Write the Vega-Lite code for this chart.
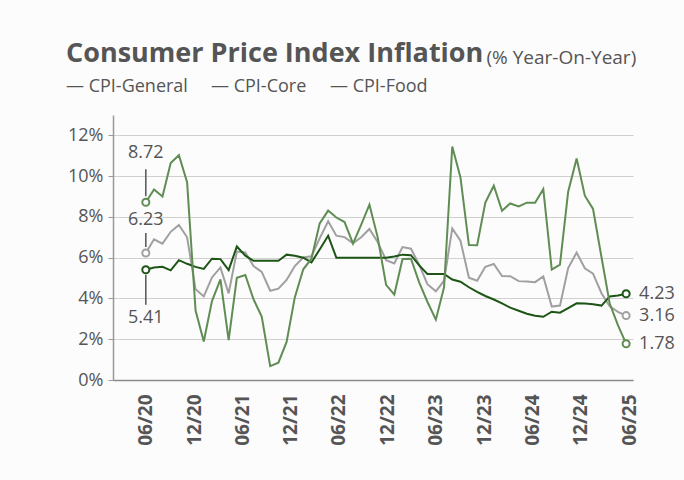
{
  "$schema": "https://vega.github.io/schema/vega-lite/v6.json",
  "width": 520,
  "height": 265,
  "autosize": "none",
  "padding": {"left": 113, "top": 115, "right": 51, "bottom": 100},
  "background": "#fcfcfc",
  "title": {
    "text": "Consumer Price Index Inflation",
    "anchor": "start",
    "frame": "group",
    "dx": -47,
    "offset": -20,
    "fontSize": 27,
    "font": "Open Sans",
    "fontWeight": "bold",
    "color": "#555555"
  },
  "datasets": {
    "cpi": [
      {"date": "2020-06-01", "CPI-General": 6.23, "CPI-Core": 5.41, "CPI-Food": 8.72},
      {"date": "2020-07-02", "CPI-General": 6.9, "CPI-Core": 5.52, "CPI-Food": 9.35},
      {"date": "2020-08-03", "CPI-General": 6.69, "CPI-Core": 5.55, "CPI-Food": 9.0},
      {"date": "2020-09-03", "CPI-General": 7.27, "CPI-Core": 5.38, "CPI-Food": 10.65},
      {"date": "2020-10-04", "CPI-General": 7.61, "CPI-Core": 5.88, "CPI-Food": 11.03},
      {"date": "2020-11-04", "CPI-General": 7.0, "CPI-Core": 5.7, "CPI-Food": 9.7},
      {"date": "2020-12-06", "CPI-General": 4.45, "CPI-Core": 5.55, "CPI-Food": 3.41},
      {"date": "2021-01-06", "CPI-General": 4.1, "CPI-Core": 5.45, "CPI-Food": 1.89},
      {"date": "2021-02-06", "CPI-General": 5.03, "CPI-Core": 5.95, "CPI-Food": 3.87},
      {"date": "2021-03-10", "CPI-General": 5.52, "CPI-Core": 5.93, "CPI-Food": 4.94},
      {"date": "2021-04-10", "CPI-General": 4.25, "CPI-Core": 5.39, "CPI-Food": 1.96},
      {"date": "2021-05-11", "CPI-General": 6.3, "CPI-Core": 6.55, "CPI-Food": 5.01},
      {"date": "2021-06-12", "CPI-General": 6.26, "CPI-Core": 6.1, "CPI-Food": 5.15},
      {"date": "2021-07-13", "CPI-General": 5.59, "CPI-Core": 5.85, "CPI-Food": 3.96},
      {"date": "2021-08-13", "CPI-General": 5.3, "CPI-Core": 5.85, "CPI-Food": 3.11},
      {"date": "2021-09-14", "CPI-General": 4.38, "CPI-Core": 5.85, "CPI-Food": 0.68},
      {"date": "2021-10-15", "CPI-General": 4.48, "CPI-Core": 5.85, "CPI-Food": 0.85},
      {"date": "2021-11-15", "CPI-General": 4.91, "CPI-Core": 6.15, "CPI-Food": 1.87},
      {"date": "2021-12-16", "CPI-General": 5.59, "CPI-Core": 6.1, "CPI-Food": 4.05},
      {"date": "2022-01-17", "CPI-General": 6.01, "CPI-Core": 6.0, "CPI-Food": 5.43},
      {"date": "2022-02-17", "CPI-General": 6.07, "CPI-Core": 5.77, "CPI-Food": 5.95},
      {"date": "2022-03-20", "CPI-General": 6.95, "CPI-Core": 6.4, "CPI-Food": 7.68},
      {"date": "2022-04-21", "CPI-General": 7.79, "CPI-Core": 7.08, "CPI-Food": 8.31},
      {"date": "2022-05-22", "CPI-General": 7.08, "CPI-Core": 6.0, "CPI-Food": 7.97},
      {"date": "2022-06-22", "CPI-General": 7.01, "CPI-Core": 6.0, "CPI-Food": 7.75},
      {"date": "2022-07-24", "CPI-General": 6.71, "CPI-Core": 6.0, "CPI-Food": 6.69},
      {"date": "2022-08-24", "CPI-General": 7.0, "CPI-Core": 6.0, "CPI-Food": 7.62},
      {"date": "2022-09-24", "CPI-General": 7.41, "CPI-Core": 6.0, "CPI-Food": 8.6},
      {"date": "2022-10-25", "CPI-General": 6.77, "CPI-Core": 6.0, "CPI-Food": 7.01},
      {"date": "2022-11-26", "CPI-General": 5.88, "CPI-Core": 6.0, "CPI-Food": 4.67},
      {"date": "2022-12-27", "CPI-General": 5.72, "CPI-Core": 6.06, "CPI-Food": 4.19},
      {"date": "2023-01-27", "CPI-General": 6.52, "CPI-Core": 6.15, "CPI-Food": 5.94},
      {"date": "2023-02-28", "CPI-General": 6.44, "CPI-Core": 6.12, "CPI-Food": 5.95},
      {"date": "2023-03-31", "CPI-General": 5.66, "CPI-Core": 5.62, "CPI-Food": 4.79},
      {"date": "2023-05-01", "CPI-General": 4.7, "CPI-Core": 5.2, "CPI-Food": 3.84},
      {"date": "2023-06-02", "CPI-General": 4.35, "CPI-Core": 5.2, "CPI-Food": 2.96},
      {"date": "2023-07-03", "CPI-General": 4.87, "CPI-Core": 5.2, "CPI-Food": 4.55},
      {"date": "2023-08-03", "CPI-General": 7.44, "CPI-Core": 4.93, "CPI-Food": 11.45},
      {"date": "2023-09-03", "CPI-General": 6.83, "CPI-Core": 4.82, "CPI-Food": 9.94},
      {"date": "2023-10-05", "CPI-General": 5.02, "CPI-Core": 4.55, "CPI-Food": 6.62},
      {"date": "2023-11-05", "CPI-General": 4.87, "CPI-Core": 4.32, "CPI-Food": 6.61},
      {"date": "2023-12-06", "CPI-General": 5.55, "CPI-Core": 4.12, "CPI-Food": 8.7},
      {"date": "2024-01-07", "CPI-General": 5.69, "CPI-Core": 3.95, "CPI-Food": 9.53},
      {"date": "2024-02-07", "CPI-General": 5.1, "CPI-Core": 3.76, "CPI-Food": 8.3},
      {"date": "2024-03-09", "CPI-General": 5.09, "CPI-Core": 3.55, "CPI-Food": 8.66},
      {"date": "2024-04-10", "CPI-General": 4.85, "CPI-Core": 3.4, "CPI-Food": 8.52},
      {"date": "2024-05-11", "CPI-General": 4.83, "CPI-Core": 3.25, "CPI-Food": 8.7},
      {"date": "2024-06-11", "CPI-General": 4.8, "CPI-Core": 3.15, "CPI-Food": 8.69},
      {"date": "2024-07-12", "CPI-General": 5.08, "CPI-Core": 3.1, "CPI-Food": 9.36},
      {"date": "2024-08-13", "CPI-General": 3.6, "CPI-Core": 3.35, "CPI-Food": 5.42},
      {"date": "2024-09-13", "CPI-General": 3.65, "CPI-Core": 3.3, "CPI-Food": 5.66},
      {"date": "2024-10-14", "CPI-General": 5.49, "CPI-Core": 3.53, "CPI-Food": 9.24},
      {"date": "2024-11-15", "CPI-General": 6.25, "CPI-Core": 3.76, "CPI-Food": 10.87},
      {"date": "2024-12-16", "CPI-General": 5.48, "CPI-Core": 3.75, "CPI-Food": 9.04},
      {"date": "2025-01-16", "CPI-General": 5.22, "CPI-Core": 3.72, "CPI-Food": 8.39},
      {"date": "2025-02-17", "CPI-General": 4.26, "CPI-Core": 3.65, "CPI-Food": 6.02},
      {"date": "2025-03-20", "CPI-General": 3.61, "CPI-Core": 4.1, "CPI-Food": 3.75},
      {"date": "2025-04-20", "CPI-General": 3.34, "CPI-Core": 4.15, "CPI-Food": 2.69},
      {"date": "2025-05-21", "CPI-General": 3.16, "CPI-Core": 4.23, "CPI-Food": 1.78}
    ],
    "ends": [
      {"date": "2020-06-01", "series": "CPI-General", "value": 6.23, "side": "start"},
      {"date": "2020-06-01", "series": "CPI-Core", "value": 5.41, "side": "start"},
      {"date": "2020-06-01", "series": "CPI-Food", "value": 8.72, "side": "start"},
      {"date": "2025-05-21", "series": "CPI-General", "value": 3.16, "side": "end"},
      {"date": "2025-05-21", "series": "CPI-Core", "value": 4.23, "side": "end"},
      {"date": "2025-05-21", "series": "CPI-Food", "value": 1.78, "side": "end"}
    ]
  },
  "encoding": {
    "x": {
      "field": "date",
      "type": "temporal",
      "scale": {
        "type": "utc",
        "domain": [
          {"year": 2020, "month": 1, "date": 29, "utc": true},
          {"year": 2025, "month": 6, "date": 16, "utc": true}
        ]
      },
      "axis": {
        "title": null,
        "values": [
          {"year": 2020, "month": 6, "date": 1, "utc": true},
          {"year": 2020, "month": 12, "date": 1, "utc": true},
          {"year": 2021, "month": 6, "date": 1, "utc": true},
          {"year": 2021, "month": 12, "date": 1, "utc": true},
          {"year": 2022, "month": 6, "date": 1, "utc": true},
          {"year": 2022, "month": 12, "date": 1, "utc": true},
          {"year": 2023, "month": 6, "date": 1, "utc": true},
          {"year": 2023, "month": 12, "date": 1, "utc": true},
          {"year": 2024, "month": 6, "date": 1, "utc": true},
          {"year": 2024, "month": 12, "date": 1, "utc": true},
          {"year": 2025, "month": 6, "date": 1, "utc": true}
        ],
        "labelExpr": "utcFormat(datum.value, '%m/%y')",
        "labelAngle": 270,
        "labelFontSize": 19,
        "labelFontWeight": "bold",
        "labelColor": "#555555",
        "labelPadding": 14,
        "labelFlush": false,
        "labelOverlap": false,
        "ticks": false,
        "grid": false,
        "domainColor": "#8a8a8a",
        "domainWidth": 1.5
      }
    },
    "y": {
      "field": "value",
      "type": "quantitative",
      "scale": {"domain": [0, 13], "nice": false, "zero": true},
      "axis": {
        "title": "(% Year-On-Year)",
        "titleAngle": 0,
        "titleAlign": "left",
        "titleBaseline": "alphabetic",
        "titleX": 373,
        "titleY": -52,
        "titleFontSize": 19,
        "titleFontWeight": "normal",
        "titleColor": "#555555",
        "titleFont": "Open Sans",
        "values": [0, 2, 4, 6, 8, 10, 12],
        "labelExpr": "datum.value + '%'",
        "labelFontSize": 18,
        "labelColor": "#555555",
        "labelPadding": 5,
        "tickSize": 5,
        "tickColor": "#999999",
        "domainColor": "#999999",
        "domainWidth": 1.5,
        "gridColor": "#d0d0d0",
        "gridWidth": 1
      }
    }
  },
  "layer": [
    {
      "data": {"name": "cpi"},
      "transform": [{"fold": ["CPI-General", "CPI-Core", "CPI-Food"], "as": ["series", "value"]}],
      "mark": {"type": "line", "strokeWidth": 2},
      "encoding": {
        "color": {
          "field": "series",
          "type": "nominal",
          "scale": {
            "domain": ["CPI-General", "CPI-Core", "CPI-Food"],
            "range": ["#a0a0a0", "#1d5516", "#5f8d53"]
          },
          "legend": {
            "orient": "none",
            "legendX": -65,
            "legendY": -37,
            "direction": "horizontal",
            "title": null,
            "symbolType": "stroke",
            "symbolSize": 0,
            "symbolOpacity": 0,
            "symbolStrokeWidth": 0,
            "labelExpr": "'— ' + datum.label",
            "labelFontSize": 18,
            "labelColor": "#555555",
            "labelFont": "Open Sans",
            "labelOffset": 0,
            "columnPadding": 5
          }
        }
      }
    },
    {
      "data": {"name": "ends"},
      "transform": [{"filter": "datum.series == 'CPI-Food' && datum.side == 'start'"}],
      "mark": {"type": "rule", "yOffset": -6, "y2Offset": -33, "color": "#555555", "strokeWidth": 1.5},
      "encoding": {"y2": {"field": "value"}}
    },
    {
      "data": {"name": "ends"},
      "transform": [{"filter": "datum.series == 'CPI-General' && datum.side == 'start'"}],
      "mark": {"type": "rule", "yOffset": -6, "y2Offset": -20, "color": "#555555", "strokeWidth": 1.5},
      "encoding": {"y2": {"field": "value"}}
    },
    {
      "data": {"name": "ends"},
      "transform": [{"filter": "datum.series == 'CPI-Core' && datum.side == 'start'"}],
      "mark": {"type": "rule", "yOffset": 5, "y2Offset": 35, "color": "#555555", "strokeWidth": 1.5},
      "encoding": {"y2": {"field": "value"}}
    },
    {
      "data": {"name": "ends"},
      "transform": [{"filter": "datum.series == 'CPI-Food' && datum.side == 'start'"}],
      "mark": {"type": "text", "dy": -44, "align": "center", "baseline": "alphabetic", "fontSize": 18, "color": "#555555", "font": "Open Sans"},
      "encoding": {"text": {"field": "value", "type": "quantitative", "format": ".2f"}}
    },
    {
      "data": {"name": "ends"},
      "transform": [{"filter": "datum.series == 'CPI-General' && datum.side == 'start'"}],
      "mark": {"type": "text", "dy": -28, "align": "center", "baseline": "alphabetic", "fontSize": 18, "color": "#555555", "font": "Open Sans"},
      "encoding": {"text": {"field": "value", "type": "quantitative", "format": ".2f"}}
    },
    {
      "data": {"name": "ends"},
      "transform": [{"filter": "datum.series == 'CPI-Core' && datum.side == 'start'"}],
      "mark": {"type": "text", "dy": 53, "align": "center", "baseline": "alphabetic", "fontSize": 18, "color": "#555555", "font": "Open Sans"},
      "encoding": {"text": {"field": "value", "type": "quantitative", "format": ".2f"}}
    },
    {
      "data": {"name": "ends"},
      "transform": [{"filter": "datum.side == 'end'"}],
      "mark": {"type": "text", "dx": 13, "align": "left", "baseline": "middle", "fontSize": 18, "color": "#555555", "font": "Open Sans"},
      "encoding": {"text": {"field": "value", "type": "quantitative", "format": ".2f"}}
    },
    {
      "data": {"name": "ends"},
      "mark": {"type": "point", "filled": false, "fill": "#fcfcfc", "fillOpacity": 1, "size": 50, "strokeWidth": 2, "opacity": 1},
      "encoding": {
        "stroke": {
          "field": "series",
          "type": "nominal",
          "scale": {
            "domain": ["CPI-General", "CPI-Core", "CPI-Food"],
            "range": ["#a0a0a0", "#1d5516", "#5f8d53"]
          },
          "legend": null
        }
      }
    }
  ],
  "config": {
    "font": "Open Sans",
    "view": {"stroke": null}
  }
}
